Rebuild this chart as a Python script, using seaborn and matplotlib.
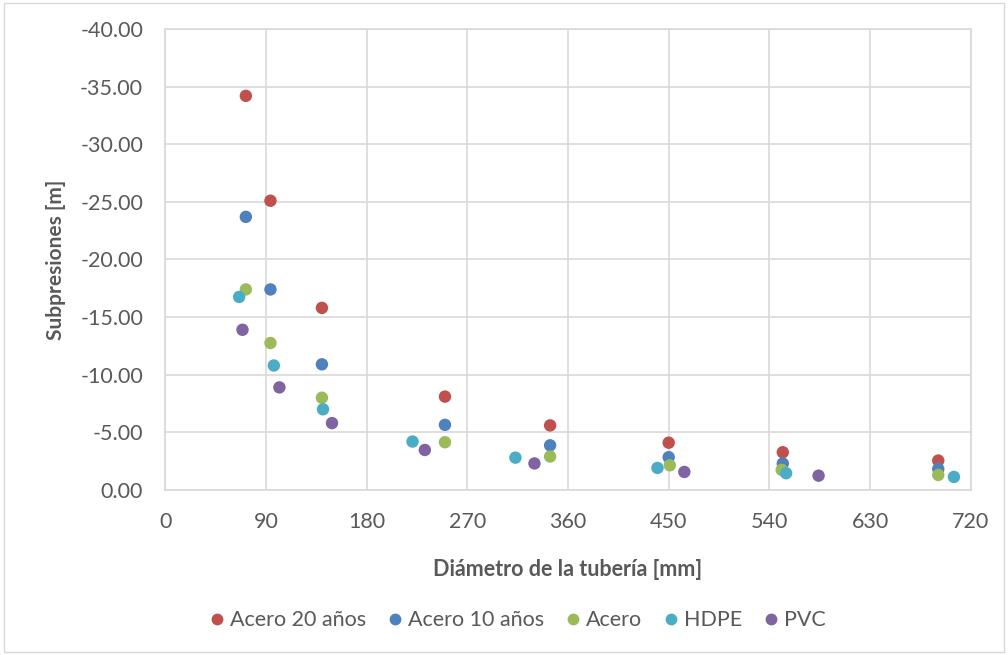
import numpy as np
import pandas as pd
import seaborn as sns
import matplotlib
matplotlib.use("Agg")
import matplotlib.pyplot as plt
from matplotlib.ticker import FormatStrFormatter, MultipleLocator
from matplotlib.patches import Rectangle

# ---- data ----
series_names = ["Acero 20 años", "Acero 10 años", "Acero", "HDPE", "PVC"]

x_acero20 = [72, 94, 140, 250, 344, 450, 552, 691]
y_acero20 = [-34.2, -25.1, -15.8, -8.1, -5.6, -4.1, -3.27, -2.55]

x_acero10 = [72, 94, 140, 250, 344, 450, 552, 691]
y_acero10 = [-23.7, -17.4, -10.9, -5.65, -3.87, -2.84, -2.29, -1.82]

x_acero = [72, 94, 140, 250, 344, 451, 551, 691]
y_acero = [-17.4, -12.75, -8.0, -4.14, -2.9, -2.14, -1.74, -1.3]

x_hdpe = [66, 97, 141, 221, 313, 440, 555, 705]
y_hdpe = [-16.75, -10.8, -7.0, -4.2, -2.8, -1.91, -1.45, -1.13]

x_pvc = [69, 102, 149, 232, 330, 464, 584]
y_pvc = [-13.9, -8.9, -5.8, -3.47, -2.3, -1.56, -1.24]

colors = ["#C0504D", "#4F81BD", "#9BBB59", "#4BACC6", "#8064A2"]

xs = [x_acero20, x_acero10, x_acero, x_hdpe, x_pvc]
ys = [y_acero20, y_acero10, y_acero, y_hdpe, y_pvc]
frames = []
for name, xv, yv in zip(series_names, xs, ys):
    frames.append(pd.DataFrame({"x": xv, "y": yv, "serie": name}))
df = pd.concat(frames, ignore_index=True)

# ---- style ----
sns.set_theme(style="white")
plt.rcParams["font.family"] = ["Lato", "DejaVu Sans"]
text_color = "#595959"
grid_color = "#D9D9D9"
tick_fs = 15.5

fig = plt.figure(figsize=(10.08, 6.55), dpi=100)
fig.patch.set_facecolor("white")
fig.add_artist(Rectangle((0.004, 0.004), 0.992, 0.992, transform=fig.transFigure,
                         fill=False, edgecolor="#D9D9D9", linewidth=1.0))

ax = fig.add_axes([0.164, 0.252, 0.799, 0.7037])

sns.scatterplot(data=df, x="x", y="y", hue="serie", hue_order=series_names,
                palette=colors, s=80, linewidth=0, ax=ax, legend=True, zorder=3)

ax.set_xlim(0, 720)
ax.set_ylim(0, -40)
ax.xaxis.set_major_locator(MultipleLocator(90))
ax.yaxis.set_major_locator(MultipleLocator(5))
ax.yaxis.set_major_formatter(FormatStrFormatter("%.2f"))

ax.grid(True, color=grid_color, linewidth=1.2)
ax.set_axisbelow(True)
for sp in ax.spines.values():
    sp.set_color(grid_color)
    sp.set_linewidth(1.2)

ax.tick_params(axis="both", length=0, labelsize=tick_fs, colors=text_color)
ax.tick_params(axis="y", pad=16)
ax.tick_params(axis="x", pad=16)

ax.set_xlabel("Diámetro de la tubería [mm]", fontsize=15.5, fontweight="bold",
              color=text_color, labelpad=19)
ax.set_ylabel("Subpresiones [m]", fontsize=15, fontweight="bold",
              color=text_color, labelpad=10)

handles, labels = ax.get_legend_handles_labels()
ax.legend_.remove()
leg = fig.legend(handles, labels, loc="center", bbox_to_anchor=(0.513, 0.053),
                 ncol=5, frameon=False, fontsize=tick_fs, handlelength=0.8,
                 handletextpad=0.2, columnspacing=0.95, markerscale=0.95,
                 borderpad=0.2)
for t in leg.get_texts():
    t.set_color(text_color)

fig.savefig("out.png", dpi=100, facecolor="white")
